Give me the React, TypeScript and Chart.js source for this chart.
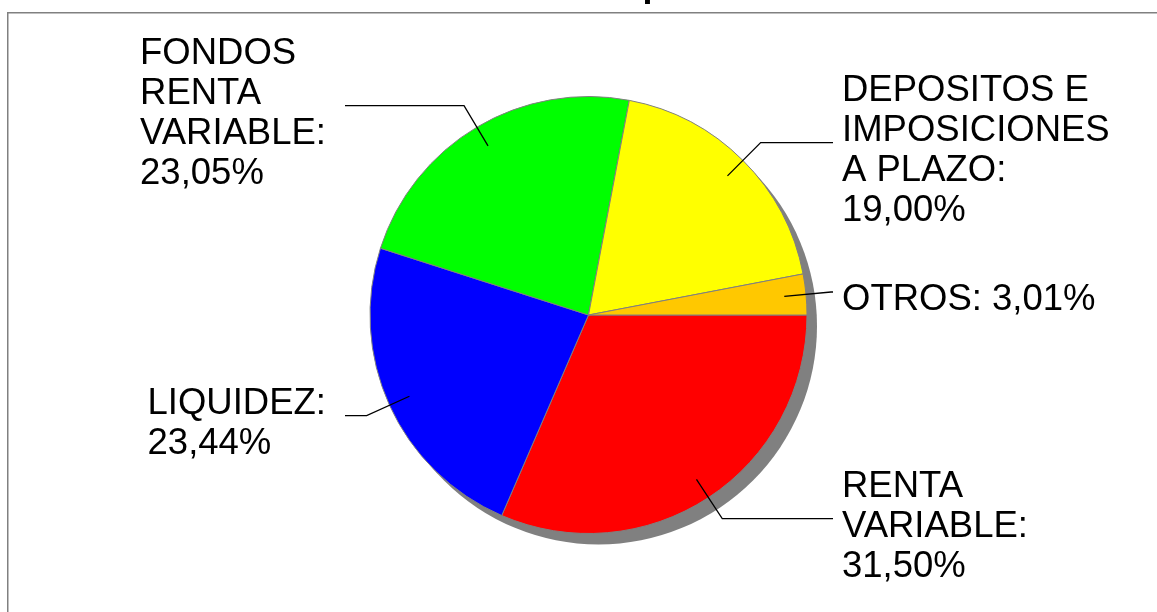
import React, { useEffect, useRef } from "react";
import { Chart, registerables } from "chart.js";

Chart.register(...registerables);

const categories = [
  "RENTA VARIABLE",
  "LIQUIDEZ",
  "FONDOS RENTA VARIABLE",
  "DEPOSITOS E IMPOSICIONES A PLAZO",
  "OTROS",
];
const values = [31.5, 23.44, 23.05, 19.0, 3.01];
const sliceColors = ["#ff0000", "#0000ff", "#00ff00", "#ffff00", "#ffc800"];
const labelLines = [
  ["RENTA", "VARIABLE:"],
  ["LIQUIDEZ:"],
  ["FONDOS", "RENTA", "VARIABLE:"],
  ["DEPOSITOS E", "IMPOSICIONES", "A PLAZO:"],
  ["OTROS:"],
];
const inlinePercent = [false, false, false, false, true];

const FONT = '36.5px "Liberation Sans", Arial, sans-serif';

const fmt = (v: number) => v.toFixed(2).replace(".", ",") + "%";

const framePlugin = {
  id: "frame",
  beforeDraw(chart: any) {
    const ctx = chart.ctx;
    ctx.save();
    ctx.strokeStyle = "#808080";
    ctx.lineWidth = 1.5;
    ctx.strokeRect(7.75, 12.75, 3000, 3000);
    // cut-off title (only the descender is visible)
    ctx.fillStyle = "#000";
    ctx.font = 'bold 36px "Liberation Sans", Arial, sans-serif';
    ctx.textBaseline = "alphabetic";
    ctx.textAlign = "left";
    ctx.fillText("p", 642.5, -4.5);
    ctx.restore();
  },
};

const shadowPlugin = {
  id: "pieShadow",
  beforeDatasetsDraw(chart: any) {
    const meta = chart.getDatasetMeta(0);
    const arc = meta.data[0];
    if (!arc) return;
    const { x, y, outerRadius } = arc.getProps(["x", "y", "outerRadius"], true);
    const ctx = chart.ctx;
    ctx.save();
    ctx.fillStyle = "#808080";
    ctx.beginPath();
    ctx.arc(x + 10, y + 11, outerRadius, 0, Math.PI * 2);
    ctx.fill();
    ctx.restore();
  },
};

const labelPlugin = {
  id: "pieLabels",
  afterDatasetsDraw(chart: any) {
    const meta = chart.getDatasetMeta(0);
    const ctx = chart.ctx;
    ctx.save();
    ctx.font = FONT;
    ctx.fillStyle = "#000";
    ctx.strokeStyle = "#000";
    ctx.lineWidth = 1.3;
    ctx.textBaseline = "alphabetic";
    ctx.textAlign = "left";
    meta.data.forEach((arc: any, i: number) => {
      const { x, y, startAngle, endAngle, outerRadius } = arc.getProps(
        ["x", "y", "startAngle", "endAngle", "outerRadius"],
        true
      );
      const mid = (startAngle + endAngle) / 2;
      const c = Math.cos(mid);
      const s = Math.sin(mid);
      const p0x = x + c * outerRadius * 0.9;
      const p0y = y + s * outerRadius * 0.9;
      const p1x = x + c * outerRadius * 1.115;
      const p1y = y + s * outerRadius * 1.115;
      const right = c >= 0;
      const endX = right ? 833 : 345;
      ctx.beginPath();
      ctx.moveTo(p0x, p0y);
      ctx.lineTo(p1x, p1y);
      ctx.lineTo(endX, p1y);
      ctx.stroke();

      const lines = labelLines[i].slice();
      if (inlinePercent[i]) {
        lines[lines.length - 1] = lines[lines.length - 1] + " " + fmt(values[i]);
      } else {
        lines.push(fmt(values[i]));
      }
      const n = lines.length;
      const lh = 40;
      const c0 = p1y + 5 - (lh * (n - 1)) / 2;
      let left: number;
      if (right) {
        left = 842;
      } else {
        const w = Math.max(...lines.map((l) => ctx.measureText(l).width));
        left = 326 - w;
      }
      lines.forEach((l, k) => {
        ctx.fillText(l, left, c0 + k * lh + 13);
      });
    });
    ctx.restore();
  },
};

export default function App() {
  const ref = useRef<HTMLCanvasElement | null>(null);
  useEffect(() => {
    if (!ref.current) return;
    const chart = new Chart(ref.current, {
      type: "pie",
      data: {
        labels: categories,
        datasets: [
          {
            data: values,
            backgroundColor: sliceColors,
            borderColor: "#808080",
            borderWidth: 1,
          },
        ],
      },
      options: {
        responsive: false,
        animation: false,
        rotation: 90,
        layout: { padding: { left: 20, right: 0, top: 96, bottom: 78 } },
        plugins: {
          legend: { display: false },
          tooltip: { enabled: false },
          title: { display: false },
        },
      },
      plugins: [framePlugin, shadowPlugin, labelPlugin],
    });
    return () => chart.destroy();
  }, []);
  return (
    <div style={{ position: "absolute", left: 0, top: 0, width: 1157, height: 612, background: "#fff" }}>
      <canvas ref={ref} width={1157} height={612} style={{ display: "block" }} />
    </div>
  );
}
